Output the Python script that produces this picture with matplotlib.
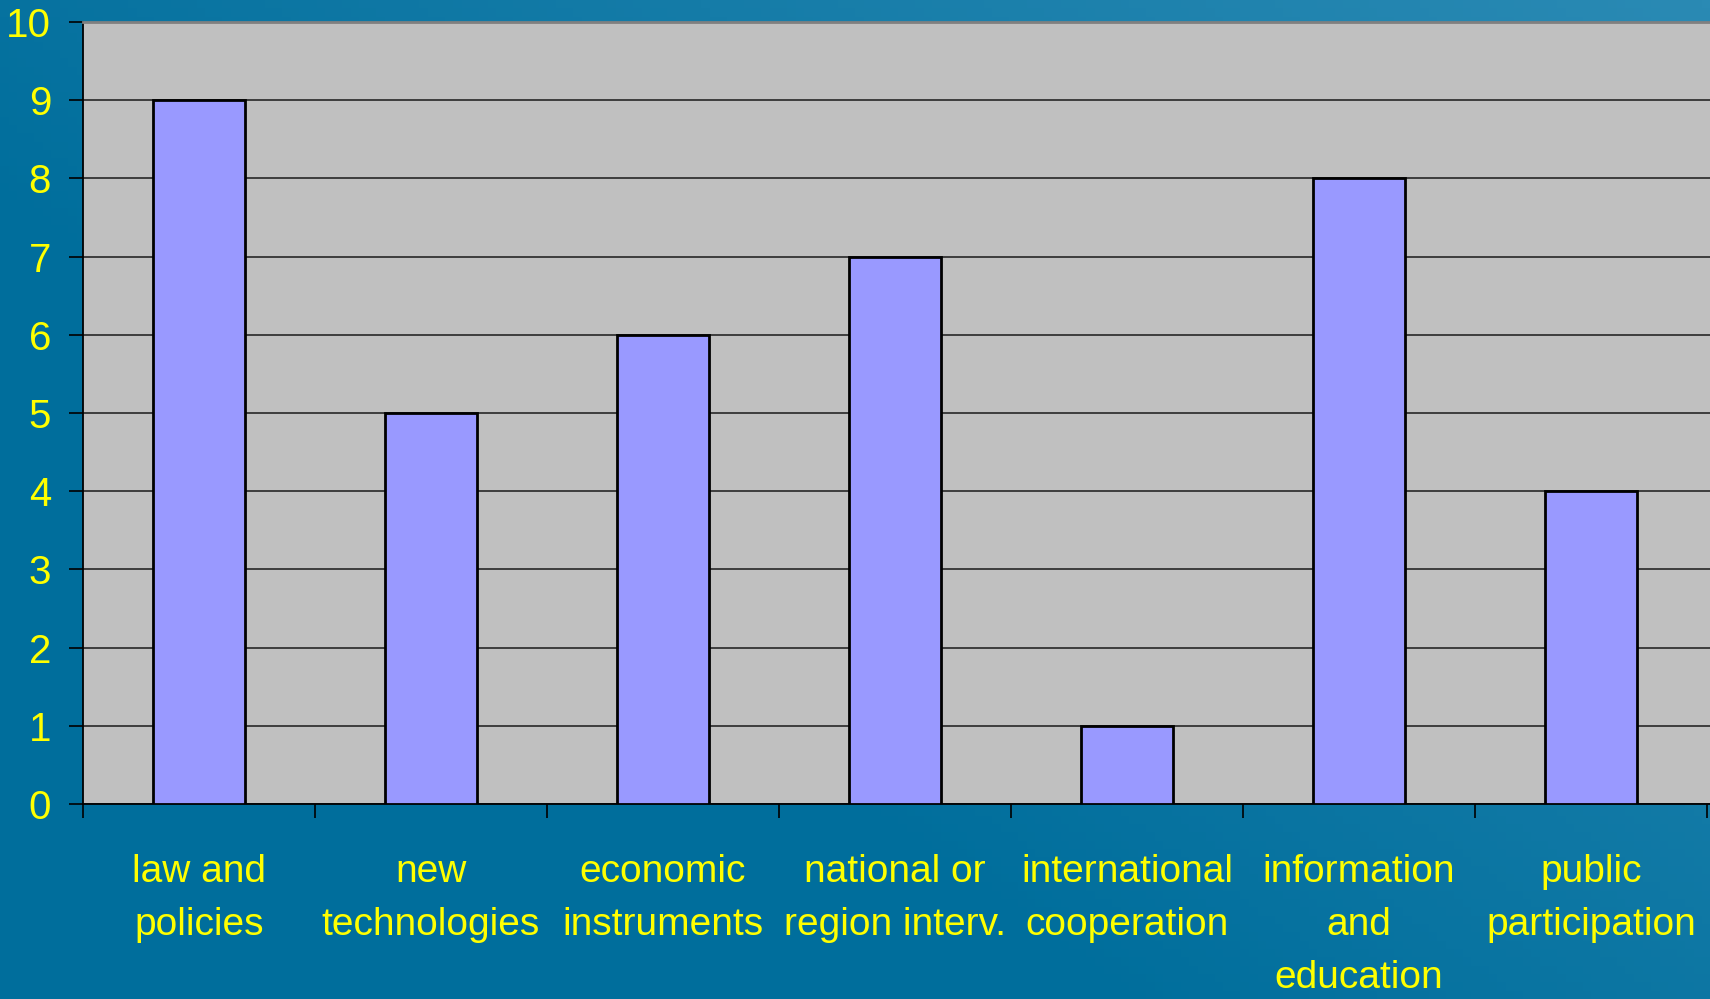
import numpy as np
import matplotlib
matplotlib.use("Agg")
import matplotlib.pyplot as plt
from matplotlib.colors import LinearSegmentedColormap

# Data
categories = ["law and\npolicies", "new\ntechnologies", "economic\ninstruments",
              "national or\nregion interv.", "international\ncooperation",
              "information\nand\neducation", "public\nparticipation"]
values = [9, 5, 6, 7, 1, 8, 4]
y_ticks = [0, 1, 2, 3, 4, 5, 6, 7, 8, 9, 10]

plt.rcParams['font.family'] = ['Liberation Sans', 'DejaVu Sans']
fs = 28

fig = plt.figure(figsize=(17.1, 9.99), dpi=100, facecolor="#0a70a0")

# soft background gradient (slide backdrop)
bg = fig.add_axes([0, 0, 1, 1], zorder=-1)
gx, gy = np.meshgrid(np.linspace(0, 1, 200), np.linspace(0, 1, 120))
grad = np.clip(0.55 * gx + 0.45 * (1 - gy) - 0.35, 0, 1)
cmap = LinearSegmentedColormap.from_list("bg", ["#006e9c", "#2a8ab4"])
bg.imshow(grad, cmap=cmap, aspect="auto", extent=[0, 1, 0, 1], origin="upper")
bg.axis("off")

ax = fig.add_axes([83 / 1710, 195 / 999, 1627 / 1710, 782 / 999])
ax.set_facecolor("#c0c0c0")

x = np.arange(len(categories))
ax.bar(x, values, width=0.4, color="#9999ff", edgecolor="black", linewidth=2, zorder=3)

ax.set_ylim(0, 10)
ax.set_xlim(-0.5, len(categories) - 0.5 + 3 / 232)
ax.set_yticks(y_ticks)
ax.yaxis.grid(True, color="#333333", linewidth=1.3, zorder=0)
ax.set_axisbelow(True)

# major ticks at category boundaries, labels on minor ticks at centres
ax.set_xticks(np.arange(len(categories) + 1) - 0.5)
ax.set_xticklabels([])
ax.set_xticks(x, minor=True)
ax.set_xticklabels(categories, minor=True, linespacing=1.6)
ax.tick_params(axis="x", which="minor", length=0, pad=36, labelsize=fs, labelcolor="#ffff00")
ax.tick_params(axis="x", which="major", length=10, width=1.2, color="black")
ax.tick_params(axis="y", length=10, width=1.2, color="black", pad=13,
               labelsize=29, labelcolor="#ffff00")

ax.spines["right"].set_visible(False)
ax.spines["top"].set_color("#808080")
ax.spines["top"].set_linewidth(2)
ax.spines["left"].set_color("black")
ax.spines["bottom"].set_color("black")
ax.spines["left"].set_linewidth(1.3)
ax.spines["bottom"].set_linewidth(1.3)

fig.savefig("out.png", dpi=100, facecolor=fig.get_facecolor())
